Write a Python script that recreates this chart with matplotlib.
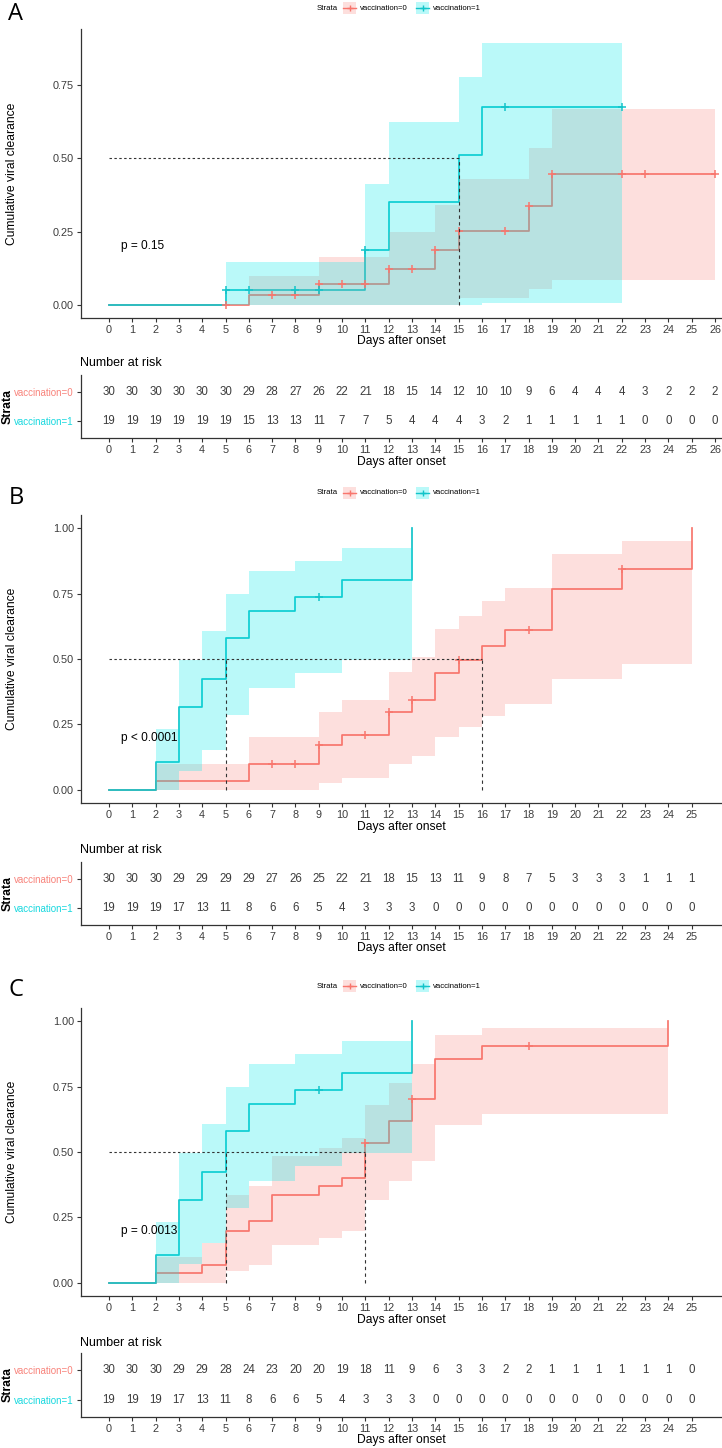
import numpy as np
import matplotlib
matplotlib.use("Agg")
import matplotlib.pyplot as plt
from matplotlib.patches import Rectangle

plt.rcParams['font.family'] = ['Liberation Sans', 'DejaVu Sans']

# ---------------- DATA ----------------
# Panel A
A_red_t = [0, 6, 9, 12, 14, 15, 18, 19]
A_red_v = [0, 0.034, 0.071, 0.124, 0.187, 0.253, 0.336, 0.446]
A_red_end = 26
A_red_cens = [5, 7, 8, 9, 10, 11, 12, 13, 14, 15, 17, 18, 19, 22, 23, 26]
A_red_ci_t = [6, 9, 12, 14, 15, 18, 19, 26]
A_red_lo = [0, 0, 0, 0, 0.025, 0.056, 0.085]
A_red_hi = [0.10, 0.164, 0.25, 0.341, 0.43, 0.536, 0.668]

A_cyan_t = [0, 5, 11, 12, 15, 16]
A_cyan_v = [0, 0.052, 0.187, 0.352, 0.512, 0.675]
A_cyan_end = 22
A_cyan_cens = [5, 6, 8, 9, 11, 17, 22]
A_cyan_ci_t = [5, 11, 12, 15, 16, 22]
A_cyan_lo = [0, 0, 0, 0, 0.006]
A_cyan_hi = [0.148, 0.412, 0.623, 0.778, 0.894]

A_medians = [15]
A_pval = "p = 0.15"
A_days = list(range(0, 27))
A_risk_red = [30, 30, 30, 30, 30, 30, 29, 28, 27, 26, 22, 21, 18, 15, 14, 12, 10, 10, 9, 6, 4, 4, 4, 3, 2, 2, 2]
A_risk_cyan = [19, 19, 19, 19, 19, 19, 15, 13, 13, 11, 7, 7, 5, 4, 4, 4, 3, 2, 1, 1, 1, 1, 1, 0, 0, 0, 0]

# Panel B
B_red_t = [0, 2, 6, 9, 10, 12, 13, 14, 15, 16, 17, 19, 22, 25]
B_red_v = [0, 0.034, 0.10, 0.171, 0.21, 0.297, 0.345, 0.447, 0.497, 0.551, 0.61, 0.767, 0.844, 1.0]
B_red_end = 25
B_red_cens = [7, 8, 9, 11, 12, 13, 15, 18, 22]
B_red_ci_t = [2, 6, 9, 10, 12, 13, 14, 15, 16, 17, 19, 22, 25]
B_red_lo = [0, 0, 0.025, 0.047, 0.10, 0.13, 0.202, 0.24, 0.282, 0.327, 0.424, 0.479]
B_red_hi = [0.098, 0.202, 0.299, 0.345, 0.452, 0.507, 0.615, 0.666, 0.72, 0.771, 0.902, 0.952]

B_cyan_t = [0, 2, 3, 4, 5, 6, 8, 10, 13]
B_cyan_v = [0, 0.107, 0.316, 0.422, 0.579, 0.685, 0.737, 0.803, 1.0]
B_cyan_end = 13
B_cyan_cens = [9]
B_cyan_ci_t = [2, 3, 4, 5, 6, 8, 10, 13]
B_cyan_lo = [0, 0.072, 0.152, 0.286, 0.388, 0.445, 0.498]
B_cyan_hi = [0.234, 0.498, 0.606, 0.75, 0.837, 0.875, 0.924]

B_medians = [5, 16]
B_pval = "p < 0.0001"
B_days = list(range(0, 26))
B_risk_red = [30, 30, 30, 29, 29, 29, 29, 27, 26, 25, 22, 21, 18, 15, 13, 11, 9, 8, 7, 5, 3, 3, 3, 1, 1, 1]
B_risk_cyan = [19, 19, 19, 17, 13, 11, 8, 6, 6, 5, 4, 3, 3, 3, 0, 0, 0, 0, 0, 0, 0, 0, 0, 0, 0, 0]

# Panel C
C_red_t = [0, 2, 4, 5, 6, 7, 9, 10, 11, 12, 13, 14, 16, 24]
C_red_v = [0, 0.036, 0.07, 0.2, 0.236, 0.336, 0.369, 0.401, 0.535, 0.62, 0.703, 0.856, 0.904, 1.0]
C_red_end = 24
C_red_cens = [11, 13, 18]
C_red_ci_t = [2, 4, 5, 6, 7, 9, 10, 11, 12, 13, 14, 16, 24]
C_red_lo = [0, 0, 0.045, 0.068, 0.143, 0.17, 0.2, 0.318, 0.391, 0.467, 0.603, 0.647]
C_red_hi = [0.098, 0.153, 0.334, 0.372, 0.484, 0.516, 0.554, 0.68, 0.764, 0.837, 0.948, 0.972]

C_cyan_t = [0, 2, 3, 4, 5, 6, 8, 10, 13]
C_cyan_v = [0, 0.107, 0.316, 0.422, 0.579, 0.685, 0.737, 0.803, 1.0]
C_cyan_end = 13
C_cyan_cens = [9]
C_cyan_ci_t = [2, 3, 4, 5, 6, 8, 10, 13]
C_cyan_lo = [0, 0.072, 0.152, 0.286, 0.388, 0.445, 0.498]
C_cyan_hi = [0.234, 0.498, 0.606, 0.75, 0.837, 0.875, 0.924]

C_medians = [5, 11]
C_pval = "p = 0.0013"
C_days = list(range(0, 26))
C_risk_red = [30, 30, 30, 29, 29, 28, 24, 23, 20, 20, 19, 18, 11, 9, 6, 3, 3, 2, 2, 1, 1, 1, 1, 1, 1, 0]
C_risk_cyan = [19, 19, 19, 17, 13, 11, 8, 6, 6, 5, 4, 3, 3, 3, 0, 0, 0, 0, 0, 0, 0, 0, 0, 0, 0, 0]

strata_labels = ["vaccination=0", "vaccination=1"]
panel_letters = ["A", "B", "C"]

# ---------------- STYLE ----------------
W, H = 722, 1448
RED = '#F8766D'
CYAN_LINE = '#13C4C9'
CYAN_FILL = '#00ECEC'
RED_TXT = '#F8837B'
CYAN_TXT = '#18D8DF'
AX_COL = '#333333'
TXT_COL = '#3C3C3C'

fig = plt.figure(figsize=(W / 100, H / 100), dpi=100)


def add_ax(left, top, right, bottom):
    return fig.add_axes([left / W, 1 - bottom / H, (right - left) / W, (bottom - top) / H])


def style_axis(ax):
    for s in ['top', 'right']:
        ax.spines[s].set_visible(False)
    for s in ['left', 'bottom']:
        ax.spines[s].set_color(AX_COL)
        ax.spines[s].set_linewidth(0.9)
    ax.tick_params(axis='both', length=3, width=0.8, color=AX_COL,
                   labelcolor=TXT_COL, labelsize=7.8, pad=2)
    ax.patch.set_alpha(0)


XLIM = (-1.2, 26.3)
LEFT, RIGHT = 81, 722

panels = [
    dict(red=(A_red_t, A_red_v, A_red_end, A_red_cens, A_red_ci_t, A_red_lo, A_red_hi),
         cyan=(A_cyan_t, A_cyan_v, A_cyan_end, A_cyan_cens, A_cyan_ci_t, A_cyan_lo, A_cyan_hi),
         medians=A_medians, pval=A_pval, days=A_days, rr=A_risk_red, rc=A_risk_cyan,
         letter_y=14, legend_y=8, top=29, bottom=318, ylim=(-0.0443, 0.941),
         yticks=[0, 0.25, 0.5, 0.75], xlab_y=341, title_y=363, ttop=375, tbot=438, txlab_y=462),
    dict(red=(B_red_t, B_red_v, B_red_end, B_red_cens, B_red_ci_t, B_red_lo, B_red_hi),
         cyan=(B_cyan_t, B_cyan_v, B_cyan_end, B_cyan_cens, B_cyan_ci_t, B_cyan_lo, B_cyan_hi),
         medians=B_medians, pval=B_pval, days=B_days, rr=B_risk_red, rc=B_risk_cyan,
         letter_y=498, legend_y=493, top=515, bottom=803, ylim=(-0.05, 1.05),
         yticks=[0, 0.25, 0.5, 0.75, 1.0], xlab_y=827, title_y=850, ttop=862, tbot=925, txlab_y=948),
    dict(red=(C_red_t, C_red_v, C_red_end, C_red_cens, C_red_ci_t, C_red_lo, C_red_hi),
         cyan=(C_cyan_t, C_cyan_v, C_cyan_end, C_cyan_cens, C_cyan_ci_t, C_cyan_lo, C_cyan_hi),
         medians=C_medians, pval=C_pval, days=C_days, rr=C_risk_red, rc=C_risk_cyan,
         letter_y=990, legend_y=986, top=1008, bottom=1296, ylim=(-0.05, 1.05),
         yticks=[0, 0.25, 0.5, 0.75, 1.0], xlab_y=1320, title_y=1343, ttop=1353, tbot=1417, txlab_y=1440),
]

ov = fig.add_axes([0, 0, 1, 1], zorder=10)
ov.set_xlim(0, W)
ov.set_ylim(H, 0)
ov.axis('off')

for i, p in enumerate(panels):
    ax = add_ax(LEFT, p['top'], RIGHT, p['bottom'])
    style_axis(ax)
    ax.set_xlim(*XLIM)
    ax.set_ylim(*p['ylim'])
    ax.set_xticks(p['days'])
    ax.set_xticklabels([str(d) for d in p['days']])
    ax.set_yticks(p['yticks'])
    ax.set_yticklabels(["%.2f" % y for y in p['yticks']])

    curves = [(p['red'], RED, RED, 0.23), (p['cyan'], CYAN_LINE, CYAN_FILL, 0.27)]
    # step lines (under ribbons)
    for (t, v, end, cens, cit, lo, hi), lc, fc, a in curves:
        ax.step(list(t) + [end], list(v) + [v[-1]], where='post', color=lc, lw=1.25, zorder=2)
    # ribbons
    for k, ((t, v, end, cens, cit, lo, hi), lc, fc, a) in enumerate(curves):
        ax.fill_between(cit, list(lo) + [lo[-1]], list(hi) + [hi[-1]], step='post',
                        color=fc, alpha=a, lw=0, zorder=3 + 0.1 * k)
    # censor marks
    for (t, v, end, cens, cit, lo, hi), lc, fc, a in curves:
        tt = np.asarray(t)
        vv = np.asarray(v)
        idx = np.searchsorted(tt, cens, side='right') - 1
        ax.plot(cens, vv[idx], '+', ms=6, mew=1.1, color=lc, zorder=4, clip_on=False)
    # median lines
    ax.plot([0, max(p['medians'])], [0.5, 0.5], color=AX_COL, lw=0.8, ls=(0, (2.2, 2.2)), zorder=5)
    for m in p['medians']:
        ax.plot([m, m], [0, 0.5], color=AX_COL, lw=0.8, ls=(0, (3, 3)), zorder=5)
    ax.text(0.5, 0.2, p['pval'], ha='left', va='center', fontsize=8.6, color='black', zorder=6)

    # risk table
    tax = add_ax(LEFT, p['ttop'], RIGHT, p['tbot'])
    style_axis(tax)
    tax.set_xlim(*XLIM)
    tax.set_ylim(0.4, 2.6)
    tax.set_xticks(p['days'])
    tax.set_xticklabels([str(d) for d in p['days']])
    tax.set_yticks([2, 1])
    tax.set_yticklabels(strata_labels, fontsize=7)
    for lab, col in zip(tax.get_yticklabels(), [RED_TXT, CYAN_TXT]):
        lab.set_color(col)
    for d, nr, nc in zip(p['days'], p['rr'], p['rc']):
        tax.text(d, 2, str(nr), ha='center', va='center', fontsize=8.3, color=TXT_COL)
        tax.text(d, 1, str(nc), ha='center', va='center', fontsize=8.3, color=TXT_COL)

    # texts in pixel space
    ov.text(16, p['letter_y'], panel_letters[i], ha='center', va='center', fontsize=17,
            family=['Open Sans', 'DejaVu Sans'], color='black')
    ov.text(12, (p['top'] + p['bottom']) / 2, 'Cumulative viral clearance', rotation=90,
            ha='center', va='center', fontsize=8.7, color='black')
    ov.text((LEFT + RIGHT) / 2, p['xlab_y'], 'Days after onset', ha='center', va='center',
            fontsize=8.7, color='black')
    ov.text(80, p['title_y'], 'Number at risk', ha='left', va='center', fontsize=9, color='black')
    ov.text(8, (p['ttop'] + p['tbot']) / 2, 'Strata', rotation=90, ha='center', va='center',
            fontsize=8.8, fontweight='bold', color='black')
    ov.text((LEFT + RIGHT) / 2, p['txlab_y'], 'Days after onset', ha='center', va='center',
            fontsize=8.7, color='black')

    # legend
    ly = p['legend_y']
    ov.text(317, ly, 'Strata', ha='left', va='center', fontsize=5.6, color='black')
    for bx, lc, fc, a, lab, tx in [(343, RED, RED, 0.23, strata_labels[0], 360),
                                   (416, CYAN_LINE, CYAN_FILL, 0.27, strata_labels[1], 433)]:
        ov.add_patch(Rectangle((bx, ly - 6), 13, 12, facecolor=fc, alpha=a, lw=0))
        ov.plot([bx, bx + 13], [ly, ly], color=lc, lw=1.0)
        ov.plot([bx + 6.5], [ly], '+', color=lc, ms=5, mew=1.0)
        ov.text(tx, ly, lab, ha='left', va='center', fontsize=5.6, color='black')

fig.savefig('out.png', dpi=100)
